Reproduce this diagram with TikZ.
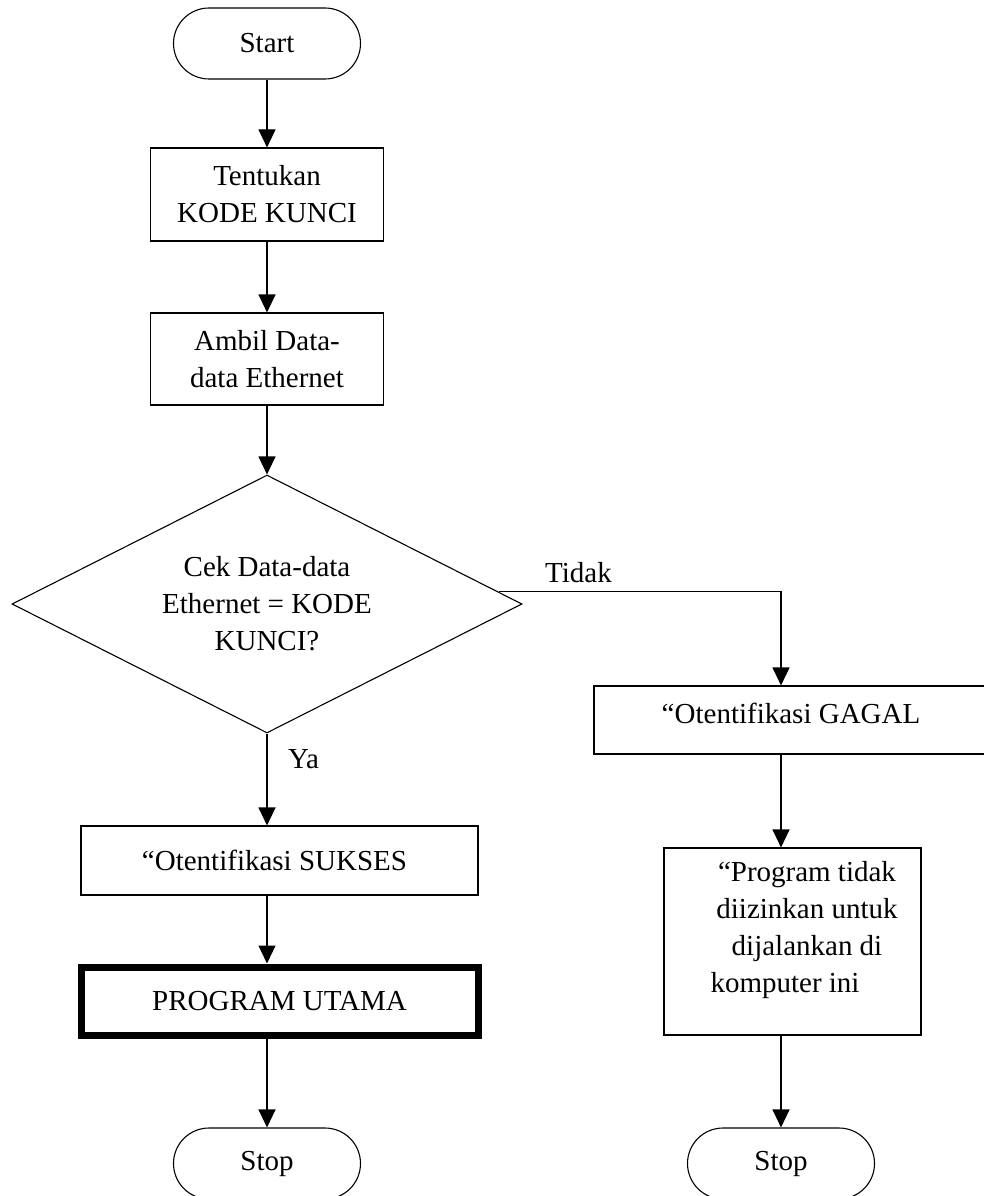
\documentclass[tikz,border=0pt]{standalone}
\usepackage{fontspec}
\setmainfont{Liberation Serif}
\usetikzlibrary{shapes.geometric,arrows.meta}
\begin{document}
\begin{tikzpicture}[x=1pt,y=-1pt,
  txt/.style={font=\fontsize{29}{37}\selectfont},
  base/.style={draw, line width=1.1pt, txt, align=center, inner sep=0pt},
  terminal/.style={base, rectangle, rounded corners=35.5pt, minimum width=187pt, minimum height=71pt},
  procbox/.style={base, rectangle},
  decision/.style={base, diamond, aspect=1.98, minimum width=510pt, minimum height=258pt},
  flow/.style={line width=1.1pt, -{Triangle[length=18pt,width=17pt]}},
  lbl/.style={txt, inner sep=0pt, anchor=base west}]
\clip (0,0) rectangle (984,1196);
\fill[white] (0,0) rectangle (984,1196);

% left column
\node[terminal] (start) at (267,43.5) {Start};
\node[procbox, minimum width=233pt, minimum height=93pt] (tent) at (267,194.5) {Tentukan\\KODE KUNCI};
\node[procbox, minimum width=233pt, minimum height=92pt] (ambil) at (267,359) {Ambil Data-\\data Ethernet};
\node[decision] (dec) at (267,604) {Cek Data-data\\Ethernet = KODE\\KUNCI?};
\node[procbox, minimum width=397pt, minimum height=69pt] (sukses) at (279.5,860.5) {“Otentifikasi SUKSES\hspace*{10pt}};
\node[procbox, line width=7pt, minimum width=397pt, minimum height=68pt] (prog) at (279.5,1001) {PROGRAM UTAMA};
\node[terminal] (stopL) at (267,1163.5) {Stop};

% right column
\coordinate (rc) at (781,0);
\node[procbox, minimum width=394pt, minimum height=68pt, text depth=14pt] (gagal) at (791,720) {“Otentifikasi GAGAL};
\node[procbox, minimum width=257pt, minimum height=187pt, text depth=30pt] (tidak) at (792.5,941.5)
  {\hspace*{29pt}“Program tidak\\\hspace*{29pt}diizinkan untuk\\\hspace*{29pt}dijalankan di\\komputer ini\hspace*{15pt}};
\node[terminal] (stopR) at (781,1163.5) {Stop};

% labels
\node[lbl] (tidaklbl) at (545,582) {Tidak};
\node[lbl] (yalbl) at (288,768) {Ya};

% connectors
\draw[flow] (start.south) -- (tent.north);
\draw[flow] (tent.south) -- (ambil.north);
\draw[flow] (ambil.south) -- (dec.north);
\draw[flow] (dec.south) -- (dec.south |- sukses.north);
\draw[flow] (dec.south |- sukses.south) -- (dec.south |- prog.north);
\draw[flow] (dec.south |- prog.south) -- (stopL.north);
\draw[flow] (dec.3) -| (rc |- gagal.north);
\draw[flow] (rc |- gagal.south) -- (rc |- tidak.north);
\draw[flow] (rc |- tidak.south) -- (stopR.north);
\end{tikzpicture}
\end{document}
